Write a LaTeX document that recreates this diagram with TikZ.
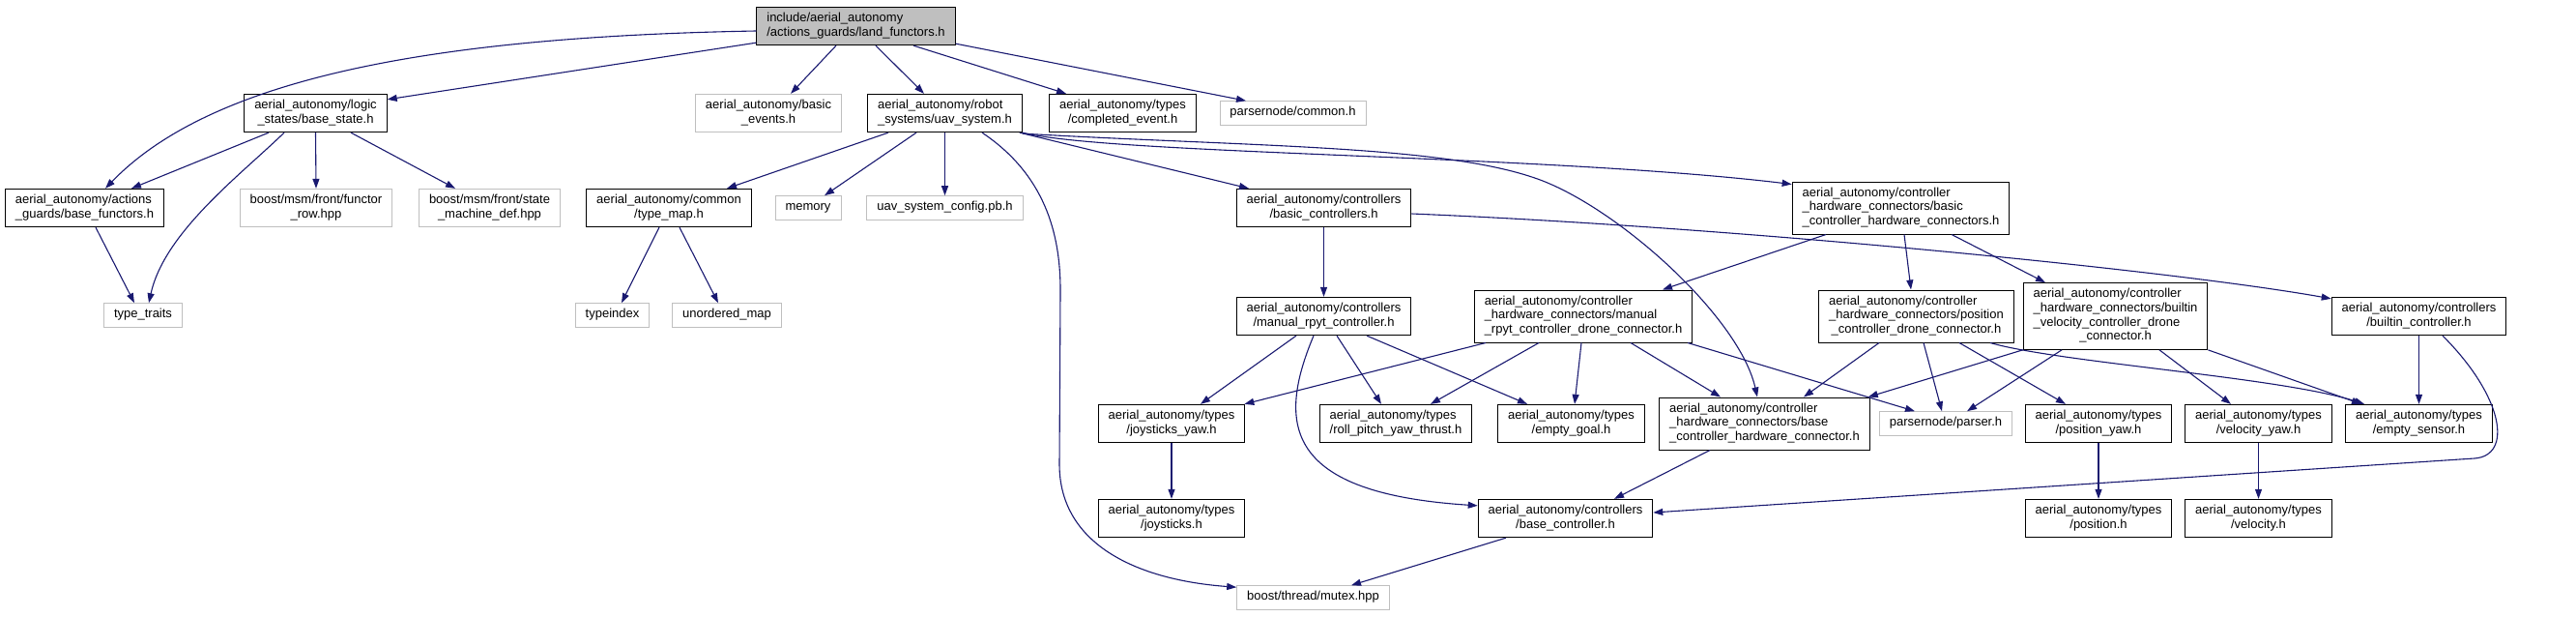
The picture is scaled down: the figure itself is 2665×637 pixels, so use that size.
\documentclass[tikz,border=0pt]{standalone}
\usepackage{fontspec}
\setmainfont{Liberation Sans}
\usepackage{tikz}
\usetikzlibrary{arrows.meta,calc}
\definecolor{depBlue}{RGB}{25,25,112}
\definecolor{extGray}{RGB}{191,191,191}
\newcommand{\hlines}[2]{\begin{tabular}{@{}l@{}}#1\\\multicolumn{1}{@{}c@{}}{#2}\end{tabular}}

\begin{document}
\begin{tikzpicture}[x=1pt,y=-1pt,
  file/.style={draw=black,fill=white,line width=0.9pt,inner xsep=10.5pt,inner ysep=5pt,
    font=\fontsize{13}{14.7}\selectfont},
  sysfile/.style={file,draw=extGray},
  rootfile/.style={file,fill=extGray},
  dep/.style={depBlue,line width=1.1pt,-{Triangle[length=10pt,width=7pt]}}]
\useasboundingbox (0,0) rectangle (2665,637);

\node[rootfile] (root) at (885.5,27) {\hlines{include/aerial\_autonomy}{/actions\_guards/land\_functors.h}};

\node[file] (baseState) at (326.5,117) {\hlines{aerial\_autonomy/logic}{\_states/base\_state.h}};
\node[sysfile] (basicEvents) at (795,117) {\hlines{aerial\_autonomy/basic}{\_events.h}};
\node[file] (uavSystem) at (977.5,117) {\hlines{aerial\_autonomy/robot}{\_systems/uav\_system.h}};
\node[file] (completedEvent) at (1161.5,117) {\hlines{aerial\_autonomy/types}{/completed\_event.h}};
\node[sysfile] (pnCommon) at (1337.5,117) {\strut parsernode/common.h};

\node[file] (baseFunctors) at (87.5,215) {\hlines{aerial\_autonomy/actions}{\_guards/base\_functors.h}};
\node[sysfile] (functorRow) at (327,215) {\hlines{boost/msm/front/functor}{\_row.hpp}};
\node[sysfile] (smDef) at (506.5,215) {\hlines{boost/msm/front/state}{\_machine\_def.hpp}};
\node[file] (typeMap) at (692,215) {\hlines{aerial\_autonomy/common}{/type\_map.h}};
\node[sysfile] (memory) at (836,215) {\strut memory};
\node[sysfile] (uavConfig) at (977.5,215) {\strut uav\_system\_config.pb.h};
\node[file] (basicCtrls) at (1369.5,215) {\hlines{aerial\_autonomy/controllers}{/basic\_controllers.h}};
\node[file] (hwConnectors) at (1966.5,215) {\hlines{aerial\_autonomy/controller\\\_hardware\_connectors/basic}{\_controller\_hardware\_connectors.h}};

\node[sysfile] (typeTraits) at (148,326) {\strut type\_traits};
\node[sysfile] (typeIndex) at (633.5,326) {\strut typeindex};
\node[sysfile] (unorderedMap) at (752,326) {\strut unordered\_map};
\node[file] (manualCtrl) at (1369.5,327) {\hlines{aerial\_autonomy/controllers}{/manual\_rpyt\_controller.h}};
\node[file] (manualConn) at (1638,327) {\hlines{aerial\_autonomy/controller\\\_hardware\_connectors/manual}{\_rpyt\_controller\_drone\_connector.h}};
\node[file] (posConn) at (1982.5,327) {\hlines{aerial\_autonomy/controller\\\_hardware\_connectors/position}{\_controller\_drone\_connector.h}};
\node[file] (velConn) at (2188.5,327) {\hlines{aerial\_autonomy/controller\\\_hardware\_connectors/builtin\\\_velocity\_controller\_drone}{\_connector.h}};
\node[file] (builtinCtrl) at (2502.5,327) {\hlines{aerial\_autonomy/controllers}{/builtin\_controller.h}};

\node[file] (joyYaw) at (1212,438) {\hlines{aerial\_autonomy/types}{/joysticks\_yaw.h}};
\node[file] (rpyThrust) at (1444,438) {\hlines{aerial\_autonomy/types}{/roll\_pitch\_yaw\_thrust.h}};
\node[file] (emptyGoal) at (1625.5,438) {\hlines{aerial\_autonomy/types}{/empty\_goal.h}};
\node[file] (baseHwConn) at (1825.5,438) {\hlines{aerial\_autonomy/controller\\\_hardware\_connectors/base}{\_controller\_hardware\_connector.h}};
\node[sysfile] (parser) at (2013,438) {\strut parsernode/parser.h};
\node[file] (posYaw) at (2171,438) {\hlines{aerial\_autonomy/types}{/position\_yaw.h}};
\node[file] (velYaw) at (2336.5,438) {\hlines{aerial\_autonomy/types}{/velocity\_yaw.h}};
\node[file] (emptySensor) at (2502.5,438) {\hlines{aerial\_autonomy/types}{/empty\_sensor.h}};

\node[file] (joysticks) at (1212,536) {\hlines{aerial\_autonomy/types}{/joysticks.h}};
\node[file] (baseCtrl) at (1619.5,536) {\hlines{aerial\_autonomy/controllers}{/base\_controller.h}};
\node[file] (position) at (2171,536) {\hlines{aerial\_autonomy/types}{/position.h}};
\node[file] (velocity) at (2336.5,536) {\hlines{aerial\_autonomy/types}{/velocity.h}};

\node[sysfile] (mutex) at (1358.5,618) {\strut boost/thread/mutex.hpp};

\draw[dep] ([yshift=-5pt]root.west) .. controls (450,38) and (220,80) .. ([xshift=21.5pt]baseFunctors.north);
\draw[dep] ([yshift=3pt]root.south west) -- ([yshift=-6pt]baseState.north east);
\draw[dep] ([xshift=-20.5pt]root.south) -- ([xshift=23pt]basicEvents.north);
\draw[dep] ([xshift=20.5pt]root.south) -- ([xshift=-21.5pt]uavSystem.north);
\draw[dep] ([xshift=59.5pt]root.south) -- ([xshift=-58.5pt]completedEvent.north);
\draw[dep] ([yshift=2pt]root.south east) -- ([xshift=-48.5pt]pnCommon.north);

\draw[dep] ([xshift=-48.5pt]baseState.south) -- ([xshift=48.5pt]baseFunctors.north);
\draw[dep] ([xshift=-32.5pt]baseState.south) .. controls (250,180) and (170,240) .. ([xshift=6pt]typeTraits.north);
\draw[dep] (baseState.south) -- (functorRow.north);
\draw[dep] ([xshift=36.5pt]baseState.south) -- ([xshift=-35.5pt]smDef.north);
\draw[dep] ([xshift=11.5pt]baseFunctors.south) -- ([xshift=-9pt]typeTraits.north);

\draw[dep] ([xshift=-58.5pt]uavSystem.south) -- ([xshift=60pt]typeMap.north);
\draw[dep] ([xshift=-29.5pt]uavSystem.south) -- ([xshift=17pt]memory.north);
\draw[dep] (uavSystem.south) -- (uavConfig.north);
\draw[dep] ([xshift=38.5pt]uavSystem.south) .. controls (1080,180) and (1097,240) .. (1097,300)
  -- (1096,480) .. controls (1096,565) and (1180,600) .. ([yshift=-2pt]mutex.north west);
\draw[dep] ([xshift=-3pt]uavSystem.south east) -- ([xshift=-77.5pt]basicCtrls.north);
\draw[dep] (uavSystem.south east) .. controls (1150,160) and (1600,160) .. ([yshift=-3pt]hwConnectors.north west);
\draw[dep] ([yshift=-1pt]uavSystem.south east) .. controls (1300,152) and (1500,150) .. (1596,187)
  .. controls (1680,220) and (1800,330) .. ([xshift=-7.5pt]baseHwConn.north);

\draw[dep] (basicCtrls.south) -- (manualCtrl.north);
\draw[dep] ([yshift=-6pt]basicCtrls.east) .. controls (1800,235) and (2250,280) .. ([yshift=-2pt]builtinCtrl.north west);

\draw[dep] ([xshift=-77.5pt]hwConnectors.south) -- ([xshift=82pt]manualConn.north);
\draw[dep] ([xshift=3.5pt]hwConnectors.south) -- ([xshift=-5.5pt]posConn.north);
\draw[dep] ([xshift=52.5pt]hwConnectors.south) -- ([xshift=-72.5pt]velConn.north);

\draw[dep] ([xshift=-28.5pt]manualCtrl.south) -- ([xshift=30pt]joyYaw.north);
\draw[dep] ([xshift=-10.5pt]manualCtrl.south) .. controls (1320,440) and (1330,510) .. ([yshift=-7pt]baseCtrl.north west);
\draw[dep] ([xshift=13.5pt]manualCtrl.south) -- ([xshift=-15pt]rpyThrust.north);
\draw[dep] ([xshift=44.5pt]manualCtrl.south) -- ([xshift=-45.5pt]emptyGoal.north);

\draw[dep] ([xshift=-101pt]manualConn.south) -- ([xshift=-1pt]joyYaw.north east);
\draw[dep] ([xshift=-46pt]manualConn.south) -- ([xshift=36pt]rpyThrust.north);
\draw[dep] ([xshift=-2pt]manualConn.south) -- ([xshift=3.5pt]emptyGoal.north);
\draw[dep] ([xshift=49pt]manualConn.south) -- ([xshift=-45.5pt]baseHwConn.north);
\draw[dep] ([xshift=108pt]manualConn.south) -- ([xshift=-32pt]parser.north);

\draw[dep] ([xshift=-38.5pt]posConn.south) -- ([xshift=40.5pt]baseHwConn.north);
\draw[dep] ([xshift=7.5pt]posConn.south) -- ([xshift=-4pt]parser.north);
\draw[dep] ([xshift=44.5pt]posConn.south) -- ([xshift=-34pt]posYaw.north);
\draw[dep] ([xshift=76.5pt]posConn.south) .. controls (2130,375) and (2360,390) .. ([xshift=-56.5pt]emptySensor.north);

\draw[dep] (velConn.south west) -- ([xshift=-2pt]baseHwConn.north east);
\draw[dep] ([xshift=-55.5pt]velConn.south) -- ([xshift=22pt]parser.north);
\draw[dep] ([xshift=45.5pt]velConn.south) -- ([xshift=-28.5pt]velYaw.north);
\draw[dep] (velConn.south east) -- ([xshift=-59.5pt]emptySensor.north);

\draw[dep] (builtinCtrl.south) -- (emptySensor.north);
\draw[dep] ([xshift=24.5pt]builtinCtrl.south) .. controls (2590,410) and (2600,471) .. (2560,474)
  -- ([yshift=6pt]baseCtrl.east);

\draw[dep] ([xshift=-56.5pt]baseHwConn.south) -- ([xshift=50.5pt]baseCtrl.north);
\draw[dep] (joyYaw.south) -- (joysticks.north);
\draw[dep] (posYaw.south) -- (position.north);
\draw[dep] (velYaw.south) -- (velocity.north);
\draw[dep] ([xshift=-61.5pt]baseCtrl.south) -- ([xshift=39.5pt]mutex.north);
\draw[dep] ([xshift=-10pt]typeMap.south) -- ([xshift=9.5pt]typeIndex.north);
\draw[dep] ([xshift=11pt]typeMap.south) -- ([xshift=-9pt]unorderedMap.north);
\end{tikzpicture}
\end{document}
